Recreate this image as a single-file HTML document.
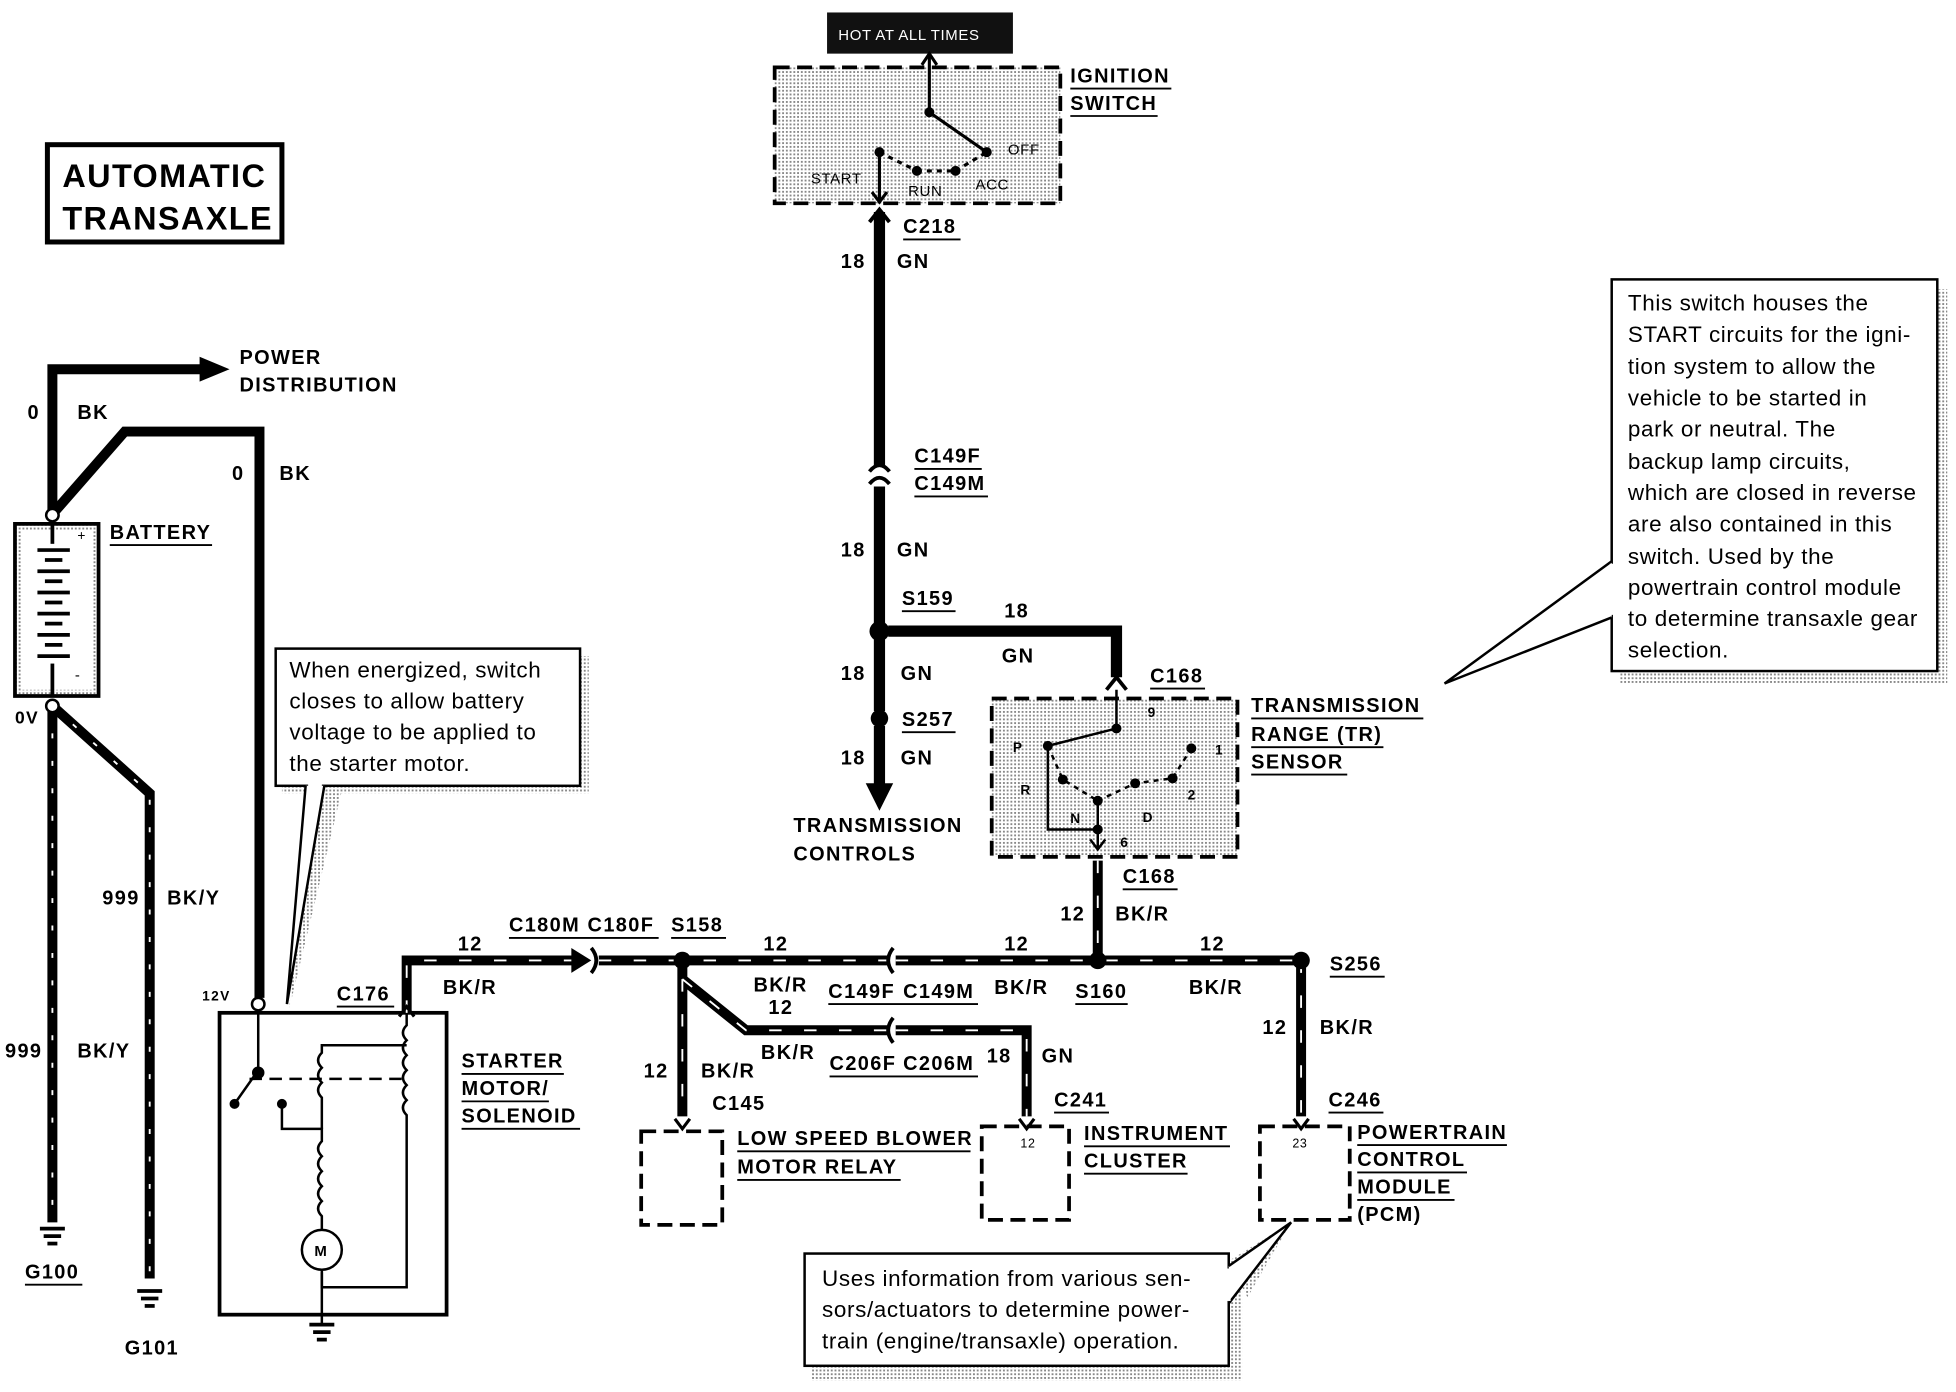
<!DOCTYPE html>
<html><head><meta charset="utf-8"><style>
html,body{margin:0;padding:0;background:#fff}
svg{display:block}
text{font-family:"Liberation Sans",Arial,sans-serif;font-weight:bold;fill:#000;letter-spacing:1.1px}
.n{font-weight:normal;letter-spacing:0.5px}
</style></head><body>
<svg width="1956" height="1392" viewBox="0 0 1568 1116" preserveAspectRatio="none" xmlns="http://www.w3.org/2000/svg">
<defs>
<pattern id="dot" width="3" height="3" patternUnits="userSpaceOnUse"><rect width="3" height="3" fill="#fff"/><rect width="1.5" height="1.5" fill="#888"/></pattern>
</defs>
<rect width="1568" height="1116" fill="#fff"/>

<!-- title -->
<rect x="38" y="116" width="188" height="78" fill="none" stroke="#000" stroke-width="4"/>
<text x="50" y="150" font-size="26">AUTOMATIC</text>
<text x="50" y="184" font-size="26">TRANSAXLE</text>

<!-- power distribution -->
<polyline points="42,410 42,296 165,296" fill="none" stroke="#000" stroke-width="8"/>
<polygon points="160,286 184,296 160,306" fill="#000"/>
<text x="192" y="292" font-size="16">POWER</text>
<text x="192" y="314" font-size="16">DISTRIBUTION</text>
<text x="22" y="336" font-size="16">0</text><text x="62" y="336" font-size="16">BK</text>
<polyline points="44,410 100,346 208,346 208,800" fill="none" stroke="#000" stroke-width="8"/>
<text x="186" y="385" font-size="16">0</text><text x="224" y="385" font-size="16">BK</text>
<circle cx="42" cy="413" r="5" fill="#fff" stroke="#000" stroke-width="2"/>

<!-- battery -->
<rect x="12" y="420" width="67" height="138" fill="url(#dot)" stroke="#000" stroke-width="3"/>
<rect x="17" y="425" width="57" height="128" fill="#fff"/>
<g stroke="#000" stroke-width="3">
<line x1="42" y1="420" x2="42" y2="436"/>
<line x1="30" y1="441" x2="56" y2="441"/><line x1="36" y1="449" x2="50" y2="449"/>
<line x1="30" y1="458" x2="56" y2="458"/><line x1="36" y1="466" x2="50" y2="466"/>
<line x1="30" y1="475" x2="56" y2="475"/><line x1="36" y1="483" x2="50" y2="483"/>
<line x1="30" y1="492" x2="56" y2="492"/><line x1="36" y1="500" x2="50" y2="500"/>
<line x1="30" y1="509" x2="56" y2="509"/><line x1="36" y1="517" x2="50" y2="517"/>
<line x1="30" y1="526" x2="56" y2="526"/>
<line x1="42" y1="532" x2="42" y2="558"/></g>
<text x="62" y="433" font-size="11" class="n">+</text><text x="60" y="545" font-size="12" class="n">-</text>
<text x="88" y="432" font-size="16">BATTERY</text><line x1="88" y1="437" x2="170" y2="437" stroke="#000" stroke-width="1.5"/>
<text x="12" y="580" font-size="14">0V</text>

<!-- ground wires -->
<g fill="none">
<path d="M42,566 V980" stroke="#000" stroke-width="8"/>
<path d="M42,566 V980" stroke="#fff" stroke-width="1.5" stroke-dasharray="4,18"/>
<path d="M42,566 L120,636 V1025" stroke="#000" stroke-width="8"/>
<path d="M42,566 L120,636 V1025" stroke="#fff" stroke-width="1.5" stroke-dasharray="4,18"/>
</g>
<circle cx="42" cy="566" r="5" fill="#fff" stroke="#000" stroke-width="2"/>
<text x="82" y="725" font-size="16">999</text><text x="134" y="725" font-size="16">BK/Y</text>
<text x="4" y="848" font-size="16">999</text><text x="62" y="848" font-size="16">BK/Y</text>
<g stroke="#000" stroke-width="3"><line x1="32" y1="985" x2="52" y2="985"/><line x1="35" y1="991" x2="49" y2="991"/><line x1="38" y1="997" x2="46" y2="997"/>
<line x1="110" y1="1035" x2="130" y2="1035"/><line x1="113" y1="1041" x2="127" y2="1041"/><line x1="116" y1="1047" x2="124" y2="1047"/></g>
<text x="20" y="1025" font-size="16">G100</text><line x1="20" y1="1030" x2="66" y2="1030" stroke="#000" stroke-width="1.5"/>
<text x="100" y="1086" font-size="16">G101</text>

<!-- starter -->
<rect x="176" y="812" width="182" height="242" fill="none" stroke="#000" stroke-width="3"/>
<circle cx="207" cy="805" r="5" fill="#fff" stroke="#000" stroke-width="2"/>
<text x="162" y="802" font-size="11">12V</text>
<text x="270" y="802" font-size="16">C176</text><line x1="270" y1="807" x2="316" y2="807" stroke="#000" stroke-width="1.5"/>
<g fill="none" stroke="#000" stroke-width="2">
<path d="M207,812 V858 L188,885"/><circle cx="207" cy="860" r="4" fill="#000"/><circle cx="188" cy="885" r="3" fill="#000"/>
<circle cx="226" cy="885" r="3" fill="#000"/>
<path d="M226,885 V905 H258 V915 q-6,6 0,12 q-6,6 0,12 q-6,6 0,12 q-6,6 0,12 q-6,6 0,12 V986"/>
<path d="M200,865 H326" stroke-dasharray="10,6"/>
<path d="M258,905 V880 q-6,-6 0,-12 q-6,-6 0,-12 q-6,-6 0,-12 V838 H326"/>
<path d="M326,812 V822 q-6,6 0,12 q-6,6 0,12 q-6,6 0,12 q-6,6 0,12 q-6,6 0,12 q-6,6 0,12 V1032 H258 V1020"/>
<circle cx="258" cy="1002" r="16"/>
<path d="M258,1018 V1062"/>
</g>
<text x="252" y="1007" font-size="12">M</text>
<g stroke="#000" stroke-width="3"><line x1="248" y1="1062" x2="268" y2="1062"/><line x1="251" y1="1068" x2="265" y2="1068"/><line x1="254" y1="1074" x2="262" y2="1074"/></g>
<text x="370" y="856" font-size="16">STARTER</text><line x1="370" y1="861" x2="452" y2="861" stroke="#000" stroke-width="1.5"/>
<text x="370" y="878" font-size="16">MOTOR/</text><line x1="370" y1="883" x2="440" y2="883" stroke="#000" stroke-width="1.5"/>
<text x="370" y="900" font-size="16">SOLENOID</text><line x1="370" y1="905" x2="465" y2="905" stroke="#000" stroke-width="1.5"/>

<!-- starter callout -->
<polygon points="232,808 245,630 275,630" fill="url(#dot)"/>
<rect x="226" y="526" width="246" height="110" fill="url(#dot)"/>
<rect x="221" y="520" width="244" height="110" fill="#fff" stroke="#000" stroke-width="2"/>
<polyline points="245,630 230,805 260,630" fill="#fff" stroke="#000" stroke-width="2"/>
<line x1="247" y1="630" x2="258" y2="630" stroke="#fff" stroke-width="3"/>
<g font-size="18"><text class="n" x="232" y="543">When energized, switch</text><text class="n" x="232" y="568">closes to allow battery</text><text class="n" x="232" y="593">voltage to be applied to</text><text class="n" x="232" y="618">the starter motor.</text></g>

<!-- bus -->
<g fill="none">
<path d="M326,812 V770 H462 M480,770 H712 M718,770 H1043" stroke="#000" stroke-width="8"/>
<path d="M326,812 V770 H462 M480,770 H712 M718,770 H1043" stroke="#fff" stroke-width="1.5" stroke-dasharray="10,18"/>
<path d="M547,770 V895 M547,785 L598,826 H712 M718,826 H823 V895 M880,690 V770 M1043,770 V895" stroke="#000" stroke-width="8"/>
<path d="M547,785 V895 M547,785 L598,826 H712 M718,826 H823 V895 M880,690 V770 M1043,770 V895" stroke="#fff" stroke-width="1.5" stroke-dasharray="10,18"/>
</g>
<polygon points="458,760 474,770 458,780" fill="#000"/>
<path d="M474,760 q8,10 0,20 M716,760 q-8,10 0,20 M716,816 q-8,10 0,20" fill="none" stroke="#000" stroke-width="3"/>
<path d="M320,815 l6,-8 l6,8" fill="none" stroke="#000" stroke-width="2.5"/>
<circle cx="547" cy="770" r="7" fill="#000"/><circle cx="880" cy="770" r="7" fill="#000"/><circle cx="1043" cy="770" r="7" fill="#000"/>
<g font-size="16">
<text x="367" y="762">12</text><text x="355" y="797">BK/R</text>
<text x="408" y="747">C180M</text><text x="471" y="747">C180F</text><text x="538" y="747">S158</text>
<text x="612" y="762">12</text><text x="604" y="795">BK/R</text>
<text x="805" y="762">12</text><text x="797" y="797">BK/R</text><text x="862" y="800">S160</text>
<text x="962" y="762">12</text><text x="953" y="797">BK/R</text><text x="1066" y="778">S256</text>
<text x="664" y="800">C149F</text><text x="724" y="800">C149M</text>
<text x="616" y="813">12</text><text x="610" y="849">BK/R</text>
<text x="665" y="858">C206F</text><text x="724" y="858">C206M</text>
<text x="791" y="852">18</text><text x="835" y="852">GN</text>
<text x="516" y="864">12</text><text x="562" y="864">BK/R</text>
<text x="1012" y="829">12</text><text x="1058" y="829">BK/R</text>
<text x="850" y="738">12</text><text x="894" y="738">BK/R</text>
<text x="900" y="708">C168</text>
<text x="571" y="890">C145</text><text x="845" y="887">C241</text><text x="1065" y="887">C246</text>
</g>
<g stroke="#000" stroke-width="1.5">
<line x1="408" y1="752" x2="528" y2="752"/><line x1="538" y1="752" x2="582" y2="752"/><line x1="862" y1="805" x2="904" y2="805"/>
<line x1="1066" y1="783" x2="1110" y2="783"/><line x1="664" y1="805" x2="784" y2="805"/><line x1="665" y1="863" x2="784" y2="863"/>
<line x1="900" y1="713" x2="944" y2="713"/><line x1="845" y1="892" x2="889" y2="892"/><line x1="1065" y1="892" x2="1109" y2="892"/>
</g>

<!-- modules -->
<g fill="none" stroke="#000" stroke-width="3" stroke-dasharray="12,6">
<rect x="514" y="907" width="65" height="75"/><rect x="787" y="903" width="70" height="75"/><rect x="1010" y="903" width="72" height="75"/>
</g>
<path d="M541,897 l6,8 l6,-8 M817,897 l6,8 l6,-8 M1037,897 l6,8 l6,-8" fill="none" stroke="#000" stroke-width="2.5"/>
<text x="818" y="920" font-size="10" class="n">12</text><text x="1036" y="920" font-size="10" class="n">23</text>
<g font-size="16">
<text x="591" y="918">LOW SPEED BLOWER</text><text x="591" y="941">MOTOR RELAY</text>
<text x="869" y="914">INSTRUMENT</text><text x="869" y="936">CLUSTER</text>
<text x="1088" y="913">POWERTRAIN</text><text x="1088" y="935">CONTROL</text><text x="1088" y="957">MODULE</text><text x="1088" y="979">(PCM)</text>
</g>
<g stroke="#000" stroke-width="1.5"><line x1="591" y1="923" x2="778" y2="923"/><line x1="591" y1="946" x2="722" y2="946"/>
<line x1="869" y1="919" x2="986" y2="919"/><line x1="869" y1="941" x2="952" y2="941"/>
<line x1="1088" y1="918" x2="1208" y2="918"/><line x1="1088" y1="940" x2="1176" y2="940"/><line x1="1088" y1="962" x2="1166" y2="962"/></g>

<!-- PCM callout -->
<rect x="650" y="1011" width="346" height="96" fill="url(#dot)"/>
<polygon points="985,1011 1035,980 1000,1040" fill="url(#dot)"/>
<rect x="645" y="1005" width="340" height="90" fill="#fff" stroke="#000" stroke-width="2"/>
<polyline points="985,1015 1035,980 985,1045" fill="#fff" stroke="#000" stroke-width="2"/>
<line x1="985" y1="1017" x2="985" y2="1043" stroke="#fff" stroke-width="3"/>
<g font-size="18"><text class="n" x="659" y="1031">Uses information from various sen-</text><text class="n" x="659" y="1056">sors/actuators to determine power-</text><text class="n" x="659" y="1081">train (engine/transaxle) operation.</text></g>

<!-- ignition -->
<rect x="663" y="10" width="149" height="33" fill="#111"/>
<text x="672" y="32" font-size="12" class="n" style="fill:#fff">HOT AT ALL TIMES</text>
<rect x="621" y="54" width="229" height="109" fill="url(#dot)" stroke="#000" stroke-width="3" stroke-dasharray="12,6"/>
<g fill="none" stroke="#000" stroke-width="2.5">
<path d="M745,43 V90 L791,122"/><path d="M739,52 l6,-9 l6,9"/>
<path d="M705,122 V163"/><path d="M699,154 l6,8 l6,-8"/>
<path d="M705,122 L735,137 M766,137 L791,122" stroke-dasharray="4,4"/><path d="M735,137 H766" stroke-dasharray="4,4"/>
</g>
<circle cx="745" cy="90" r="4" fill="#000"/><circle cx="791" cy="122" r="4" fill="#000"/><circle cx="705" cy="122" r="4" fill="#000"/>
<circle cx="735" cy="137" r="4" fill="#000"/><circle cx="766" cy="137" r="4" fill="#000"/>
<g font-size="12"><text class="n" x="650" y="147">START</text><text class="n" x="728" y="157">RUN</text><text class="n" x="782" y="152">ACC</text><text class="n" x="808" y="124">OFF</text></g>
<text x="858" y="66" font-size="16">IGNITION</text><text x="858" y="88" font-size="16">SWITCH</text>
<g stroke="#000" stroke-width="1.5"><line x1="858" y1="71" x2="939" y2="71"/><line x1="858" y1="93" x2="928" y2="93"/></g>

<!-- GN wire -->
<path d="M705,170 V373 M705,390 V500 M705,512 V570 M705,582 V630" stroke="#000" stroke-width="9" fill="none"/>
<polygon points="694,628 716,628 705,650" fill="#000"/>
<path d="M697,178 l8,-10 l8,10 M697,388 q8,-10 16,0 M697,378 q8,-10 16,0" fill="none" stroke="#000" stroke-width="3"/>
<circle cx="705" cy="506" r="8" fill="#000"/><circle cx="705" cy="576" r="7" fill="#000"/>
<path d="M712,506 H895 V543" stroke="#000" stroke-width="9" fill="none"/>
<path d="M887,553 l8,-10 l8,10" fill="none" stroke="#000" stroke-width="3"/>
<g font-size="16">
<text x="724" y="187">C218</text><text x="674" y="215">18</text><text x="719" y="215">GN</text>
<text x="733" y="371">C149F</text><text x="733" y="393">C149M</text>
<text x="674" y="446">18</text><text x="719" y="446">GN</text>
<text x="723" y="485">S159</text><text x="805" y="495">18</text><text x="803" y="531">GN</text>
<text x="674" y="545">18</text><text x="722" y="545">GN</text>
<text x="723" y="582">S257</text>
<text x="674" y="613">18</text><text x="722" y="613">GN</text>
<text x="636" y="667">TRANSMISSION</text><text x="636" y="690">CONTROLS</text>
<text x="922" y="547">C168</text>
<text x="1003" y="571">TRANSMISSION</text><text x="1003" y="594">RANGE (TR)</text><text x="1003" y="616">SENSOR</text>
</g>
<g stroke="#000" stroke-width="1.5"><line x1="724" y1="192" x2="770" y2="192"/><line x1="733" y1="376" x2="787" y2="376"/><line x1="733" y1="398" x2="792" y2="398"/>
<line x1="723" y1="490" x2="766" y2="490"/><line x1="723" y1="587" x2="766" y2="587"/><line x1="922" y1="552" x2="966" y2="552"/>
<line x1="1003" y1="576" x2="1141" y2="576"/><line x1="1003" y1="599" x2="1109" y2="599"/><line x1="1003" y1="621" x2="1080" y2="621"/></g>

<!-- TR sensor -->
<rect x="795" y="560" width="197" height="127" fill="url(#dot)" stroke="#000" stroke-width="3" stroke-dasharray="12,6"/>
<g fill="none" stroke="#000" stroke-width="2">
<path d="M895,553 V584 L840,598 V665 H880"/>
<path d="M840,598 L852,625 L880,642 M880,642 L910,628 L940,624 L955,600" stroke-dasharray="4,4"/>
<path d="M880,642 V680"/><path d="M874,673 l6,8 l6,-8"/>
</g>
<g fill="#000"><circle cx="895" cy="584" r="4"/><circle cx="840" cy="598" r="4"/><circle cx="852" cy="625" r="4"/><circle cx="880" cy="642" r="4"/><circle cx="910" cy="628" r="4"/><circle cx="940" cy="624" r="4"/><circle cx="955" cy="600" r="4"/><circle cx="880" cy="665" r="4"/></g>
<g font-size="11"><text x="812" y="603">P</text><text x="818" y="637">R</text><text x="858" y="660">N</text><text x="916" y="659">D</text><text x="920" y="575">9</text><text x="974" y="605">1</text><text x="952" y="641">2</text><text x="898" y="679">6</text></g>

<!-- right callout -->
<rect x="1299" y="232" width="262" height="316" fill="url(#dot)"/>
<polygon points="1292,450 1160,548 1299,470" fill="url(#dot)"/>
<rect x="1292" y="224" width="261" height="314" fill="#fff" stroke="#000" stroke-width="2"/>
<polyline points="1292,450 1158,548 1292,495" fill="#fff" stroke="#000" stroke-width="2"/>
<line x1="1292" y1="452" x2="1292" y2="493" stroke="#fff" stroke-width="3"/>
<g font-size="18"><text class="n" x="1305" y="249">This switch houses the</text><text class="n" x="1305" y="274">START circuits for the igni-</text><text class="n" x="1305" y="300">tion system to allow the</text><text class="n" x="1305" y="325">vehicle to be started in</text><text class="n" x="1305" y="350">park or neutral. The</text><text class="n" x="1305" y="376">backup lamp circuits,</text><text class="n" x="1305" y="401">which are closed in reverse</text><text class="n" x="1305" y="426">are also contained in this</text><text class="n" x="1305" y="452">switch. Used by the</text><text class="n" x="1305" y="477">powertrain control module</text><text class="n" x="1305" y="502">to determine transaxle gear</text><text class="n" x="1305" y="527">selection.</text></g>
</svg>
</body></html>
